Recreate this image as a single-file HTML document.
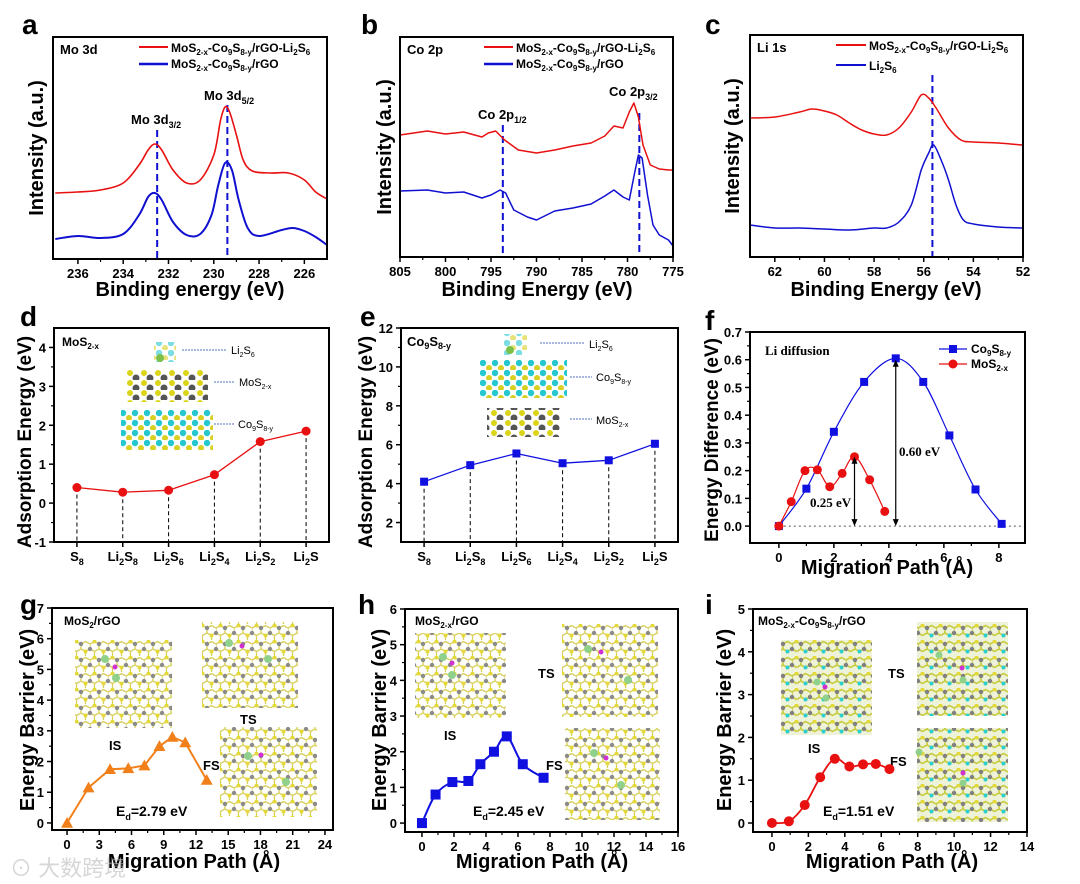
<!DOCTYPE html>
<html><head><meta charset="utf-8">
<style>
html,body{margin:0;padding:0;background:#fff;}
svg{display:block;font-family:"Liberation Sans","Noto Sans CJK SC",sans-serif;}
.t{font-weight:bold;fill:#000;}
.tk{font-size:13px;font-weight:bold;text-anchor:middle;}
.at{font-size:20px;font-weight:bold;text-anchor:middle;}
.at2{font-size:19px;font-weight:bold;text-anchor:middle;}
.pl{font-size:28px;font-weight:bold;}
.lg{font-size:13px;font-weight:bold;}
.sm{font-size:12px;font-weight:bold;}
.ser{font-family:"Liberation Serif",serif;font-weight:bold;font-size:13px;}
</style></head>
<body>
<svg id="fig" width="1080" height="884" viewBox="0 0 1080 884" xmlns="http://www.w3.org/2000/svg">
<defs>
<pattern id="lat" width="18" height="16" patternUnits="userSpaceOnUse">
<rect width="18" height="16" fill="#fff"/>
<path d="M0 4 L4.5 1.5 L9 4 L9 9 L4.5 11.5 L0 9 Z M9 4 L13.5 1.5 L18 4 M9 9 L13.5 11.5 L18 9 M4.5 11.5 L4.5 16 M13.5 11.5 L13.5 16" stroke="#d8d05a" stroke-width="1.3" fill="none"/>
<circle cx="4.5" cy="1.5" r="2" fill="#e3d93a"/><circle cx="13.5" cy="11.5" r="2" fill="#e3d93a"/>
<circle cx="9" cy="4" r="2.2" fill="#8a8a8a"/><circle cx="0" cy="9" r="2.2" fill="#8a8a8a"/><circle cx="18" cy="9" r="2.2" fill="#8a8a8a"/>
</pattern>
<pattern id="lat2" width="18" height="16" patternUnits="userSpaceOnUse">
<rect width="18" height="16" fill="#eef2d8"/>
<path d="M0 4 L4.5 1.5 L9 4 L9 9 L4.5 11.5 L0 9 Z M9 4 L13.5 1.5 L18 4 M9 9 L13.5 11.5 L18 9" stroke="#c8cc40" stroke-width="1.6" fill="none"/>
<circle cx="4.5" cy="1.5" r="2" fill="#e3d93a"/><circle cx="13.5" cy="11.5" r="2" fill="#2ad0d0"/>
<circle cx="9" cy="4" r="2.2" fill="#808080"/><circle cx="0" cy="9" r="2.2" fill="#808080"/><circle cx="18" cy="9" r="2.2" fill="#808080"/>
</pattern>
<pattern id="sideMo" width="14" height="10" patternUnits="userSpaceOnUse">
<circle cx="4" cy="3" r="3" fill="#dcd418"/><circle cx="10" cy="8" r="3.5" fill="#555"/>
</pattern>
<pattern id="sideCo" width="12" height="10" patternUnits="userSpaceOnUse">
<circle cx="3" cy="3" r="3.2" fill="#25c8cf"/><circle cx="9" cy="8" r="3" fill="#d8d020"/>
</pattern>
</defs>

<text class="t pl" x="22" y="34">a</text>
<text class="t pl" x="361" y="34">b</text>
<text class="t pl" x="705" y="34">c</text>
<text class="t pl" x="20" y="326">d</text>
<text class="t pl" x="360" y="326">e</text>
<text class="t pl" x="705" y="330">f</text>
<text class="t pl" x="20" y="614">g</text>
<text class="t pl" x="358" y="614">h</text>
<text class="t pl" x="705" y="614">i</text>

<text class="t at" x="190" y="296">Binding energy (eV)</text>
<text class="t at" x="537" y="296">Binding Energy (eV)</text>
<text class="t at" x="886" y="296">Binding Energy (eV)</text>
<text class="t at" x="887" y="574">Migration Path (Å)</text>
<text class="t at" x="194" y="868">Migration Path (Å)</text>
<text class="t at" x="542" y="868">Migration Path (Å)</text>
<text class="t at" x="892" y="868">Migration Path (Å)</text>
<text class="t at" transform="translate(43,148) rotate(-90)">Intensity (a.u.)</text>
<text class="t at" transform="translate(391,147) rotate(-90)">Intensity (a.u.)</text>
<text class="t at" transform="translate(739,146) rotate(-90)">Intensity (a.u.)</text>
<text class="t at2" transform="translate(31,442) rotate(-90)">Adsorption Energy (eV)</text>
<text class="t at2" transform="translate(372,442) rotate(-90)">Adsorption Energy (eV)</text>
<text class="t at2" transform="translate(718,440) rotate(-90)">Energy Difference (eV)</text>
<text class="t at" transform="translate(34,720) rotate(-90)">Energy Barrier (eV)</text>
<text class="t at" transform="translate(386,720) rotate(-90)">Energy Barrier (eV)</text>
<text class="t at" transform="translate(731,720) rotate(-90)">Energy Barrier (eV)</text>

<text class="t lg" x="60" y="54">Mo 3d</text>
<line x1="139" y1="47" x2="168" y2="47" stroke="#e81010" stroke-width="2"/>
<text class="t sm" x="171" y="52">MoS<tspan font-size="8" dy="3">2-x</tspan><tspan dy="-3">-Co</tspan><tspan font-size="8" dy="3">9</tspan><tspan dy="-3">S</tspan><tspan font-size="8" dy="3">8-y</tspan><tspan dy="-3">/rGO-Li</tspan><tspan font-size="8" dy="3">2</tspan><tspan dy="-3">S</tspan><tspan font-size="8" dy="3">6</tspan></text>
<line x1="139" y1="64" x2="168" y2="64" stroke="#1010d0" stroke-width="2.5"/>
<text class="t sm" x="171" y="68">MoS<tspan font-size="8" dy="3">2-x</tspan><tspan dy="-3">-Co</tspan><tspan font-size="8" dy="3">9</tspan><tspan dy="-3">S</tspan><tspan font-size="8" dy="3">8-y</tspan><tspan dy="-3">/rGO</tspan></text>
<text class="t lg" x="131" y="124">Mo 3d<tspan font-size="9" dy="4">3/2</tspan></text>
<text class="t lg" x="204" y="100">Mo 3d<tspan font-size="9" dy="4">5/2</tspan></text>

<text class="t lg" x="407" y="54">Co 2p</text>
<line x1="484" y1="47" x2="513" y2="47" stroke="#e81010" stroke-width="2"/>
<text class="t sm" x="516" y="52">MoS<tspan font-size="8" dy="3">2-x</tspan><tspan dy="-3">-Co</tspan><tspan font-size="8" dy="3">9</tspan><tspan dy="-3">S</tspan><tspan font-size="8" dy="3">8-y</tspan><tspan dy="-3">/rGO-Li</tspan><tspan font-size="8" dy="3">2</tspan><tspan dy="-3">S</tspan><tspan font-size="8" dy="3">6</tspan></text>
<line x1="484" y1="64" x2="513" y2="64" stroke="#1010d0" stroke-width="2.5"/>
<text class="t sm" x="516" y="68">MoS<tspan font-size="8" dy="3">2-x</tspan><tspan dy="-3">-Co</tspan><tspan font-size="8" dy="3">9</tspan><tspan dy="-3">S</tspan><tspan font-size="8" dy="3">8-y</tspan><tspan dy="-3">/rGO</tspan></text>
<text class="t lg" x="478" y="119">Co 2p<tspan font-size="9" dy="4">1/2</tspan></text>
<text class="t lg" x="609" y="96">Co 2p<tspan font-size="9" dy="4">3/2</tspan></text>

<text class="t lg" x="757" y="52">Li 1s</text>
<line x1="836" y1="45" x2="866" y2="45" stroke="#e81010" stroke-width="2"/>
<text class="t sm" x="869" y="50">MoS<tspan font-size="8" dy="3">2-x</tspan><tspan dy="-3">-Co</tspan><tspan font-size="8" dy="3">9</tspan><tspan dy="-3">S</tspan><tspan font-size="8" dy="3">8-y</tspan><tspan dy="-3">/rGO-Li</tspan><tspan font-size="8" dy="3">2</tspan><tspan dy="-3">S</tspan><tspan font-size="8" dy="3">6</tspan></text>
<line x1="836" y1="65" x2="866" y2="65" stroke="#1010d0" stroke-width="2"/>
<text class="t sm" x="869" y="70">Li<tspan font-size="8" dy="3">2</tspan><tspan dy="-3">S</tspan><tspan font-size="8" dy="3">6</tspan></text>

<text class="t sm" x="62" y="346">MoS<tspan font-size="8" dy="3">2-x</tspan></text>
<g>
<rect x="154" y="342" width="22" height="20" fill="url(#sideCo)" opacity="0.6"/>
<circle cx="160" cy="358" r="4" fill="#7cc04a"/>
<rect x="127" y="370" width="81" height="32" fill="url(#sideMo)"/>
<rect x="121" y="410" width="92" height="40" fill="url(#sideCo)"/>
<line x1="182" y1="350" x2="226" y2="350" stroke="#5070c0" stroke-dasharray="2,1"/>
<line x1="214" y1="382" x2="234" y2="382" stroke="#5070c0" stroke-dasharray="2,1"/>
<line x1="214" y1="424" x2="234" y2="424" stroke="#5070c0" stroke-dasharray="2,1"/>
<text x="231" y="354" font-size="11">Li<tspan font-size="7" dy="3">2</tspan><tspan dy="-3">S</tspan><tspan font-size="7" dy="3">6</tspan></text>
<text x="239" y="386" font-size="11">MoS<tspan font-size="7" dy="3">2-x</tspan></text>
<text x="238" y="428" font-size="11">Co<tspan font-size="7" dy="3">9</tspan><tspan dy="-3">S</tspan><tspan font-size="7" dy="3">8-y</tspan></text>
</g>
<text class="t lg" x="407" y="346">Co<tspan font-size="9" dy="3">9</tspan><tspan dy="-3">S</tspan><tspan font-size="9" dy="3">8-y</tspan></text>
<g>
<rect x="504" y="334" width="23" height="21" fill="url(#sideCo)" opacity="0.6"/>
<circle cx="510" cy="350" r="4" fill="#7cc04a"/>
<rect x="480" y="360" width="87" height="38" fill="url(#sideCo)"/>
<rect x="487" y="408" width="73" height="29" fill="url(#sideMo)"/>
<line x1="540" y1="343" x2="584" y2="343" stroke="#5070c0" stroke-dasharray="2,1"/>
<line x1="570" y1="377" x2="592" y2="377" stroke="#5070c0" stroke-dasharray="2,1"/>
<line x1="570" y1="419" x2="592" y2="419" stroke="#5070c0" stroke-dasharray="2,1"/>
<text x="589" y="348" font-size="11">Li<tspan font-size="7" dy="3">2</tspan><tspan dy="-3">S</tspan><tspan font-size="7" dy="3">6</tspan></text>
<text x="596" y="381" font-size="11">Co<tspan font-size="7" dy="3">9</tspan><tspan dy="-3">S</tspan><tspan font-size="7" dy="3">8-y</tspan></text>
<text x="596" y="424" font-size="11">MoS<tspan font-size="7" dy="3">2-x</tspan></text>
</g>

<text class="ser" x="765" y="355">Li diffusion</text>
<line x1="939" y1="349" x2="967" y2="349" stroke="#1010e0" stroke-width="1.3"/>
<rect x="949" y="345" width="8" height="8" fill="#1010e0"/>
<text class="sm" x="971" y="353">Co<tspan font-size="8" dy="3">9</tspan><tspan dy="-3">S</tspan><tspan font-size="8" dy="3">8-y</tspan></text>
<line x1="939" y1="364" x2="967" y2="364" stroke="#e81010" stroke-width="1.3"/>
<circle cx="953" cy="364" r="4.5" fill="#e81010"/>
<text class="sm" x="971" y="368">MoS<tspan font-size="8" dy="3">2-x</tspan></text>
<text class="ser" x="810" y="507">0.25 eV</text>
<text class="ser" x="899" y="456">0.60 eV</text>

<text class="t sm" x="64" y="625">MoS<tspan font-size="8" dy="3">2</tspan><tspan dy="-3">/rGO</tspan></text>
<rect x="75" y="640" width="97" height="88" fill="url(#lat)"/>
<rect x="202" y="622" width="96" height="86" fill="url(#lat)"/>
<rect x="220" y="727" width="97" height="90" fill="url(#lat)"/>
<g>
<circle cx="105" cy="659" r="4" fill="#8fd18a"/><circle cx="116" cy="678" r="4" fill="#8fd18a"/><circle cx="115" cy="667" r="2.5" fill="#d030d0"/>
<circle cx="229" cy="643" r="4" fill="#8fd18a"/><circle cx="268" cy="659" r="4" fill="#8fd18a"/><circle cx="242" cy="646" r="2.5" fill="#d030d0"/>
<circle cx="248" cy="756" r="4" fill="#8fd18a"/><circle cx="286" cy="782" r="4" fill="#8fd18a"/><circle cx="261" cy="755" r="2.5" fill="#d030d0"/>
</g>
<text class="t lg" x="109" y="750">IS</text>
<text class="t lg" x="240" y="724">TS</text>
<text class="t lg" x="203" y="770">FS</text>
<text class="t" x="116" y="816" font-size="14">E<tspan font-size="9" dy="4">d</tspan><tspan dy="-4">=2.79 eV</tspan></text>

<text class="t sm" x="415" y="625">MoS<tspan font-size="8" dy="3">2-x</tspan><tspan dy="-3">/rGO</tspan></text>
<rect x="415" y="633" width="91" height="85" fill="url(#lat)"/>
<rect x="562" y="624" width="96" height="93" fill="url(#lat)"/>
<rect x="565" y="728" width="95" height="92" fill="url(#lat)"/>
<g>
<circle cx="443" cy="657" r="4" fill="#8fd18a"/><circle cx="452" cy="675" r="4" fill="#8fd18a"/><circle cx="452" cy="663" r="2.5" fill="#d030d0"/>
<circle cx="588" cy="649" r="4" fill="#8fd18a"/><circle cx="628" cy="680" r="4" fill="#8fd18a"/><circle cx="601" cy="652" r="2.5" fill="#d030d0"/>
<circle cx="594" cy="753" r="4" fill="#8fd18a"/><circle cx="621" cy="785" r="4" fill="#8fd18a"/><circle cx="606" cy="758" r="2.5" fill="#d030d0"/>
</g>
<text class="t lg" x="444" y="740">IS</text>
<text class="t lg" x="538" y="678">TS</text>
<text class="t lg" x="546" y="770">FS</text>
<text class="t" x="473" y="816" font-size="14">E<tspan font-size="9" dy="4">d</tspan><tspan dy="-4">=2.45 eV</tspan></text>

<text class="t sm" x="758" y="625">MoS<tspan font-size="8" dy="3">2-x</tspan><tspan dy="-3">-Co</tspan><tspan font-size="8" dy="3">9</tspan><tspan dy="-3">S</tspan><tspan font-size="8" dy="3">8-y</tspan><tspan dy="-3">/rGO</tspan></text>
<rect x="781" y="640" width="91" height="95" fill="url(#lat2)"/>
<rect x="917" y="622" width="91" height="94" fill="url(#lat2)"/>
<rect x="917" y="728" width="91" height="94" fill="url(#lat2)"/>
<g>
<circle cx="817" cy="682" r="3.5" fill="#8fd18a"/><circle cx="826" cy="698" r="3.5" fill="#8fd18a"/><circle cx="825" cy="687" r="2.5" fill="#d030d0"/>
<circle cx="939" cy="655" r="3.5" fill="#8fd18a"/><circle cx="963" cy="680" r="3.5" fill="#8fd18a"/><circle cx="962" cy="668" r="2.5" fill="#d030d0"/>
<circle cx="919" cy="752" r="3.5" fill="#8fd18a"/><circle cx="963" cy="783" r="3.5" fill="#8fd18a"/><circle cx="963" cy="773" r="2.5" fill="#d030d0"/>
</g>
<text class="t lg" x="808" y="753">IS</text>
<text class="t lg" x="888" y="678">TS</text>
<text class="t lg" x="890" y="766">FS</text>
<text class="t" x="823" y="816" font-size="14">E<tspan font-size="9" dy="4">d</tspan><tspan dy="-4">=1.51 eV</tspan></text>

<text x="10" y="876" font-size="22" fill="#bbb" opacity="0.6">⊙ 大数跨境</text>
</svg>

<script>
const aRedX = [237,236,235,234,233.3,232.9,232.6,232.3,231.8,231.2,230.6,230.0,229.7,229.5,229.3,229.0,228.7,228.3,227.5,226.7,226.0,225.5,225];
const aRedY = [66,67,69,76,94,109,115,109,89,76,79,104,139,152,147,124,99,88,86,86,79,67,60];
const aBlueX = [237,236,235,234,233.3,232.9,232.6,232.3,231.8,231.2,230.6,230.1,229.8,229.5,229.2,228.9,228.5,228,227,226.5,226,225.5,225];
const aBlueY = [20,23,21,25,44,62,66,59,37,24,25,44,74,96,89,59,31,23,29,31,28,22,14];
const aPeaks = [232.5,229.4];
const aXTicks = [236,234,232,230,228,226];

const bRedX = [805,802,800,798,796,795.3,794.5,793.5,792,790,788,786,784,782.5,781.5,780.5,779.8,779.3,778.8,778.3,777.5,776.5,775.5,775];
const bRedY = [122,126,123,125,120,124,126,117,107,104,107,111,114,121,131,129,145,154,140,112,92,88,87,87];
const bBlueX = [805,802,800,798,796,795,794,793.4,792.5,791,790,788,786,784,782.5,781.5,780.5,779.8,779.2,778.8,778.4,777.8,777.2,776.5,775.5,775];
const bBlueY = [66,67,64,65,59,62,67,64,47,40,37,46,49,53,61,67,60,57,85,102,99,62,32,22,17,11];
const bPeaks = [793.7,778.7];
const bXTicks = [805,800,795,790,785,780,775];

const cRedX = [63,62,61,60.5,60,59.5,59,58.5,58,57.5,57,56.5,56.1,55.8,55.5,55,54.5,54,53,52];
const cRedY = [139,140,145,148,146,142,134,127,123,122,129,145,162,159,149,129,117,115,114,112];
const cBlueX = [63,62,61,60,59,58,57.5,57,56.5,56.1,55.8,55.6,55.3,55,54.7,54.4,54,53,52];
const cBlueY = [32,29,29,28,27,29,29,35,52,87,104,112,97,77,52,37,33,30,29];
const cPeaks = [55.65];
const cXTicks = [62,60,58,56,54,52];

const dCats = ['S<tspan font-size="9" dy="4">8</tspan>','Li<tspan font-size="9" dy="4">2</tspan><tspan dy="-4">S</tspan><tspan font-size="9" dy="4">8</tspan>','Li<tspan font-size="9" dy="4">2</tspan><tspan dy="-4">S</tspan><tspan font-size="9" dy="4">6</tspan>','Li<tspan font-size="9" dy="4">2</tspan><tspan dy="-4">S</tspan><tspan font-size="9" dy="4">4</tspan>','Li<tspan font-size="9" dy="4">2</tspan><tspan dy="-4">S</tspan><tspan font-size="9" dy="4">2</tspan>','Li<tspan font-size="9" dy="4">2</tspan><tspan dy="-4">S</tspan>'];
const dVals = [0.40,0.28,0.33,0.73,1.58,1.85];
const dYTicks = [-1,0,1,2,3,4];
const eVals = [4.10,4.95,5.55,5.05,5.20,6.05];
const eYTicks = [2,4,6,8,10,12];

const fCoX = [0,1,2,3.1,4.25,5.25,6.2,7.15,8.1];
const fCoY = [0,0.135,0.34,0.52,0.605,0.52,0.327,0.132,0.008];
const fMoX = [0,0.45,0.95,1.4,1.85,2.3,2.75,3.3,3.85];
const fMoY = [0,0.088,0.2,0.203,0.142,0.19,0.25,0.167,0.053];
const fXTicks = [0,2,4,6,8];
const fYTicks = [0,0.1,0.2,0.3,0.4,0.5,0.6,0.7];
const fYLabels = ['0.0','0.1','0.2','0.3','0.4','0.5','0.6','0.7'];
const fBarriers = [0.25,0.60];

const gX = [0,2,4,5.7,7.2,8.6,9.8,11,13];
const gY = [0,1.15,1.75,1.78,1.87,2.5,2.8,2.62,1.4];
const gXTicks = [0,3,6,9,12,15,18,21,24];
const gYTicks = [0,1,2,3,4,5,6,7];
const hX = [0,0.85,1.9,2.9,3.65,4.5,5.3,6.3,7.6];
const hY = [0,0.8,1.15,1.18,1.65,2.0,2.43,1.65,1.27];
const hXTicks = [0,2,4,6,8,10,12,14,16];
const hYTicks = [0,1,2,3,4,5,6];
const iX = [0,0.93,1.8,2.65,3.45,4.25,5,5.7,6.45];
const iY = [0,0.04,0.42,1.07,1.5,1.32,1.37,1.38,1.26];
const iXTicks = [0,2,4,6,8,10,12,14];
const iYTicks = [0,1,2,3,4,5];

const NS = 'http://www.w3.org/2000/svg';
const svg = document.getElementById('fig');
function mk(tag, attrs, parent){
  const e = document.createElementNS(NS, tag);
  for (const k in attrs) e.setAttribute(k, attrs[k]);
  (parent || svg).appendChild(e);
  return e;
}
function scale(d0,d1,r0,r1){ return v => r0 + (v-d0)/(d1-d0)*(r1-r0); }
function panel(p){
  p.sx = scale(p.xd[0],p.xd[1],p.x0,p.x1);
  p.sy = scale(p.yd[0],p.yd[1],p.y1,p.y0);
  return p;
}
function frame(p, name){
  const r = mk('rect',{x:p.x0,y:p.y0,width:p.x1-p.x0,height:p.y1-p.y0,fill:'none',stroke:'#000','stroke-width':2});
  
  
}
function xTicks(p, ticks, labels, name, minor){
  ticks.forEach((t,i)=>{
    const x = p.sx(t);
    const l = mk('line',{x1:x,y1:p.y1,x2:x,y2:p.y1+5,stroke:'#000','stroke-width':1.5});
    
    
    const tx = mk('text',{x:x,y:p.y1+19,class:'t tk'});
    tx.innerHTML = labels ? labels[i] : String(t);
    
    
  });
  if (minor) for (let k=0;k<ticks.length-1;k++){
    const x = p.sx((ticks[k]+ticks[k+1])/2);
    const l = mk('line',{x1:x,y1:p.y1,x2:x,y2:p.y1+3,stroke:'#000','stroke-width':1.2});
    
    
  }
}
function yTicks(p, ticks, labels, name){
  ticks.forEach((t,i)=>{
    const y = p.sy(t);
    const l = mk('line',{x1:p.x0-5,y1:y,x2:p.x0,y2:y,stroke:'#000','stroke-width':1.5});
    
    
    const tx = mk('text',{x:p.x0-8,y:y+5,class:'t tk'});
    tx.style.textAnchor = 'end';
    tx.textContent = labels ? labels[i] : String(t);
    
    
  });
  for (let k=0;k<ticks.length-1;k++){
    const y = p.sy((ticks[k]+ticks[k+1])/2);
    const l = mk('line',{x1:p.x0-3,y1:y,x2:p.x0,y2:y,stroke:'#000','stroke-width':1.2});
    
    
  }
}
function linePath(p, xs, ys){
  return xs.map((x,i)=>(i?'L':'M')+p.sx(x).toFixed(1)+' '+p.sy(ys[i]).toFixed(1)).join(' ');
}
function smoothPath(p, xs, ys){
  const pts = xs.map((x,i)=>[p.sx(x),p.sy(ys[i])]);
  let d = 'M'+pts[0][0]+' '+pts[0][1];
  for (let i=0;i<pts.length-1;i++){
    const p0=pts[Math.max(0,i-1)], p1=pts[i], p2=pts[i+1], p3=pts[Math.min(pts.length-1,i+2)];
    const c1=[p1[0]+(p2[0]-p0[0])/6, p1[1]+(p2[1]-p0[1])/6];
    const c2=[p2[0]-(p3[0]-p1[0])/6, p2[1]-(p3[1]-p1[1])/6];
    d += ' C'+c1[0].toFixed(1)+' '+c1[1].toFixed(1)+' '+c2[0].toFixed(1)+' '+c2[1].toFixed(1)+' '+p2[0].toFixed(1)+' '+p2[1].toFixed(1);
  }
  return d;
}
function series(p, d, color, w, name){
  const e = mk('path',{d:d,fill:'none',stroke:color,'stroke-width':w,'stroke-linejoin':'round'});
  
  
}
function markers(p, xs, ys, shape, color, size, name){
  xs.forEach((x,i)=>{
    const cx=p.sx(x), cy=p.sy(ys[i]);
    let m;
    if (shape==='circle') m = mk('circle',{cx:cx,cy:cy,r:size,fill:color});
    else if (shape==='square') m = mk('rect',{x:cx-size,y:cy-size,width:2*size,height:2*size,fill:color});
    else m = mk('polygon',{points:`${cx},${cy-size} ${cx-size},${cy+size*0.8} ${cx+size},${cy+size*0.8}`,fill:color});
    
    
  });
}
function peakLines(p, peaks, tops, name){
  peaks.forEach((v,i)=>{
    const x = p.sx(v);
    const l = mk('line',{x1:x,y1:tops[i],x2:x,y2:p.y1,stroke:'#1010d0','stroke-width':2,'stroke-dasharray':'7,4'});
    
    
  });
}

const A = panel({x0:53,x1:327,y0:37,y1:259,xd:[237.1,225],yd:[0,222]});
peakLines(A, aPeaks, [130,105], 'a-peak-dashed-line');
series(A, smoothPath(A,aRedX,aRedY), '#e81010', 1.6, 'a-series-red');
series(A, smoothPath(A,aBlueX,aBlueY), '#1010d0', 2, 'a-series-blue');
frame(A,'a'); xTicks(A,aXTicks,null,'a',true);

const B = panel({x0:400,x1:673,y0:37,y1:257,xd:[805,775],yd:[0,220]});
peakLines(B, bPeaks, [125,113], 'b-peak-dashed-line');
series(B, linePath(B,bRedX,bRedY), '#e81010', 1.5, 'b-series-red');
series(B, linePath(B,bBlueX,bBlueY), '#1010d0', 1.5, 'b-series-blue');
frame(B,'b'); xTicks(B,bXTicks,null,'b',true);

const C = panel({x0:750,x1:1023,y0:35,y1:257,xd:[63,52],yd:[0,222]});
peakLines(C, cPeaks, [75], 'c-peak-dashed-line');
series(C, smoothPath(C,cRedX,cRedY), '#e81010', 1.5, 'c-series-red');
series(C, smoothPath(C,cBlueX,cBlueY), '#1010d0', 1.5, 'c-series-blue');
frame(C,'c'); xTicks(C,cXTicks,null,'c',true);

const D = panel({x0:54,x1:329,y0:328,y1:542,xd:[-0.5,5.5],yd:[-1,4.5]});
const dIdx = dVals.map((v,i)=>i);
dIdx.forEach(i=>{
  const l = mk('line',{x1:D.sx(i),y1:D.sy(dVals[i]),x2:D.sx(i),y2:D.y1,stroke:'#000','stroke-dasharray':'4,3','stroke-width':1});
  
  
});
series(D, linePath(D,dIdx,dVals), '#e81010', 1.3, 'd-series-line');
markers(D, dIdx, dVals, 'circle', '#e81010', 4.5, 'd-point');
frame(D,'d'); yTicks(D,dYTicks,null,'d'); xTicks(D,dIdx,dCats,'d',false);

const E = panel({x0:401,x1:678,y0:328,y1:542,xd:[-0.5,5.5],yd:[1,12]});
const eIdx = eVals.map((v,i)=>i);
eIdx.forEach(i=>{
  const l = mk('line',{x1:E.sx(i),y1:E.sy(eVals[i]),x2:E.sx(i),y2:E.y1,stroke:'#000','stroke-dasharray':'4,3','stroke-width':1});
  
  
});
series(E, linePath(E,eIdx,eVals), '#1010e0', 1.3, 'e-series-line');
markers(E, eIdx, eVals, 'square', '#1010e0', 4, 'e-point');
frame(E,'e'); yTicks(E,eYTicks,null,'e'); xTicks(E,eIdx,dCats,'e',false);

const F = panel({x0:750,x1:1025,y0:332,y1:543,xd:[-1.05,8.95],yd:[-0.061,0.7]});
const zl = mk('line',{x1:F.sx(0),y1:F.sy(0),x2:F.x1,y2:F.sy(0),stroke:'#555','stroke-dasharray':'2,3','stroke-width':1});


series(F, smoothPath(F,fCoX,fCoY), '#1010e0', 1.2, 'f-series-co9s8');
series(F, smoothPath(F,fMoX,fMoY), '#e81010', 1.2, 'f-series-mos2');
markers(F, fCoX, fCoY, 'square', '#1010e0', 4, 'f-point-co9s8');
markers(F, fMoX, fMoY, 'circle', '#e81010', 4.5, 'f-point-mos2');
const fArrowX = [fMoX[fMoY.indexOf(Math.max(...fMoY))], fCoX[fCoY.indexOf(Math.max(...fCoY))]];
fBarriers.forEach((b,i)=>{
  const x = F.sx(fArrowX[i]), ya = F.sy(b), yb = F.sy(0);
  const l = mk('line',{x1:x,y1:ya+2,x2:x,y2:yb-2,stroke:'#000','stroke-width':1.2});
  
  
  const h1 = mk('polygon',{points:`${x},${ya} ${x-3},${ya+7} ${x+3},${ya+7}`,fill:'#000'});
  
  
  const h2 = mk('polygon',{points:`${x},${yb} ${x-3},${yb-7} ${x+3},${yb-7}`,fill:'#000'});
  
  
});
frame(F,'f'); yTicks(F,fYTicks,fYLabels,'f'); xTicks(F,fXTicks,null,'f',true);

const G = panel({x0:52,x1:333,y0:608,y1:830,xd:[-1.4,24.75],yd:[-0.23,7]});
series(G, linePath(G,gX,gY), '#f2801a', 2, 'g-series-line');
markers(G, gX, gY, 'triangle', '#f2801a', 6, 'g-point');
frame(G,'g'); yTicks(G,gYTicks,null,'g'); xTicks(G,gXTicks,null,'g',true);

const H = panel({x0:405,x1:678,y0:609,y1:832,xd:[-1.06,16],yd:[-0.25,6]});
series(H, smoothPath(H,hX,hY), '#1010e0', 2, 'h-series-line');
markers(H, hX, hY, 'square', '#1010e0', 5, 'h-point');
frame(H,'h'); yTicks(H,hYTicks,null,'h'); xTicks(H,hXTicks,null,'h',true);

const I = panel({x0:753,x1:1027,y0:609,y1:832,xd:[-1.04,14],yd:[-0.21,5]});
series(I, smoothPath(I,iX,iY), '#e81010', 1.8, 'i-series-line');
markers(I, iX, iY, 'circle', '#e81010', 5, 'i-point');
frame(I,'i'); yTicks(I,iYTicks,null,'i'); xTicks(I,iXTicks,null,'i',true);
</script>
</body></html>
